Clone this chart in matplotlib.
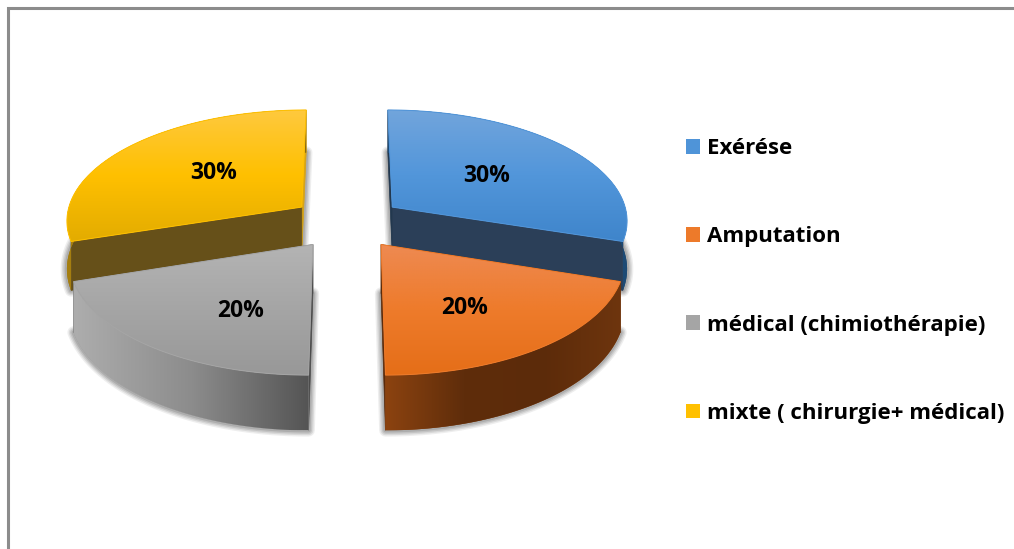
import numpy as np
import matplotlib
matplotlib.use("Agg")
import matplotlib.pyplot as plt
from matplotlib.colors import LinearSegmentedColormap
from matplotlib.patches import Polygon
from matplotlib.transforms import Transform, Affine2D

categories = ["Exérése", "Amputation", "médical (chimiothérapie)", "mixte ( chirurgie+ médical)"]
shares = [30, 20, 20, 30]

face_colors = ["#4f94d8", "#ed7a2a", "#a5a5a5", "#ffc000"]
top_grads = [["#72a5dc", "#5296da", "#3f85cb"],
             ["#ee8a52", "#ee7b2b", "#e56e18"],
             ["#b4b4b4", "#a5a5a5", "#989898"],
             ["#fec93f", "#ffc000", "#e3ac00"]]
wall_grads = [["#1d4a75", "#1d4a75"],
              ["#8c4310", "#5f2d0b", "#5c2b0a", "#6e350e"],
              ["#adadad", "#8c8c8c", "#545454"],
              ["#a67f10", "#8a6a10"]]
cut_low = ["#2b3f58", "#5a2a0a", "#6e6e6e", "#d9a514"]
cut_high = ["#22384f", "#5a2a0a", "#4c4c4c", "#665019"]
label_shift = [(-6, 3), (-2, 8), (13, 11), (12, 0)]

W, H = 1014, 549
CX, CY, RX, RY, K, DEPTH, EXPLODE = 347, 222.5, 236.5, 111, 0.11, 48, 0.24
FONT = "Open Sans"


def project(x, y, z=0.0):
    d = 1 + K * np.asarray(y)
    return CX + RX * np.asarray(x) / d, CY - RY * np.asarray(y) / d + z / d


class Perspective(Transform):
    input_dims = output_dims = 2
    is_separable = False
    has_inverse = False

    def transform_non_affine(self, values):
        v = np.asarray(values, float)
        X, Y = project(v[:, 0], v[:, 1])
        return np.column_stack([X, Y])


def arc(w, t1=None, t2=None, z=0.0, n=90):
    t = np.radians(np.linspace(w.theta1 if t1 is None else t1, w.theta2 if t2 is None else t2, n))
    X, Y = project(w.center[0] + w.r * np.cos(t), w.center[1] + w.r * np.sin(t), z)
    return np.column_stack([X, Y])


def apex(w, z=0.0):
    X, Y = project(w.center[0], w.center[1], z)
    return np.array([[X, Y]])


def gradient(ax, clip, colors, vertical, z):
    cmap = LinearSegmentedColormap.from_list("g", colors)
    ramp = np.linspace(0, 1, 256)
    data = ramp[:, None] if vertical else ramp[None, :]
    xy = clip.get_transform().transform(clip.get_path().vertices)
    xy = ax.transData.inverted().transform(xy)
    im = ax.imshow(data, cmap=cmap, aspect="auto", origin="upper", interpolation="bilinear", zorder=z,
                   extent=(xy[:, 0].min(), xy[:, 0].max(), xy[:, 1].max(), xy[:, 1].min()))
    im.set_clip_path(clip)


fig = plt.figure(figsize=(W / 100, H / 100), dpi=100)
ax = fig.add_axes([0, 0, 1, 1])
wedges, _, autotexts = ax.pie(shares, explode=[EXPLODE] * 4, colors=face_colors, startangle=90,
                              counterclock=False, radius=1, autopct="%.0f%%", pctdistance=0.56,
                              textprops=dict(family=FONT, weight="bold", fontsize=16.5, color="black"))
ax.set_aspect("auto")
ax.set_xlim(0, W)
ax.set_ylim(H, 0)
ax.axis("off")

persp = Perspective()
order = [3, 0, 2, 1]
for rank, i in enumerate(order):
    w = wedges[i]
    base = 10 + rank * 10
    floor = np.vstack([apex(w, DEPTH), arc(w, z=DEPTH)])
    for lw, a in zip([9, 7, 5, 3], [0.10, 0.14, 0.18, 0.22]):
        ax.add_patch(Polygon(floor, closed=True, fc="#808080", ec="#606060", lw=lw, alpha=a,
                             joinstyle="round", zorder=base))
    # straight cut faces first, then the outer wall hides whichever one faces away
    top_a, bot_a = arc(w), arc(w, z=DEPTH)
    for theta, colour, zz in ((w.theta1, cut_low[i], 1), (w.theta2, cut_high[i], 2)):
        rim = arc(w, theta, theta, n=1)
        rim_b = arc(w, theta, theta, z=DEPTH, n=1)
        ax.add_patch(Polygon(np.vstack([apex(w), rim, rim_b, apex(w, DEPTH)]), closed=True,
                             fc=colour, ec=colour, lw=0.5, zorder=base + zz))
    outer = Polygon(np.vstack([top_a, bot_a[::-1]]), closed=True, fc=wall_grads[i][0], ec="none", zorder=base + 3)
    ax.add_patch(outer)
    gradient(ax, outer, wall_grads[i], False, base + 4)
    # top face: the pie wedge itself, seen in perspective
    w.set_transform(persp + ax.transData)
    w.set_zorder(base + 5)
    gradient(ax, w, top_grads[i], True, base + 6)
    ax.add_patch(Polygon(np.vstack([apex(w), top_a]), closed=True, fc="none", ec=top_grads[i][1],
                         lw=0.7, zorder=base + 7))

for t, (dx, dy) in zip(autotexts, label_shift):
    t.set_transform(persp + Affine2D().translate(dx, dy) + ax.transData)
    t.set_zorder(80)

ax.plot([8, 8, W], [H, 7.5, 7.5], color="#8c8c8c", lw=2.2, solid_joinstyle="miter", zorder=1)

ax.legend(wedges, categories, loc="center left", bbox_to_anchor=(686, 281), bbox_transform=ax.transData,
          frameon=False, prop=dict(family=FONT, weight="bold", size=16),
          handlelength=0.63, handleheight=0.63, handletextpad=0.3, labelspacing=3.02, borderpad=0, borderaxespad=0)
ax.set_xlim(0, W)
ax.set_ylim(H, 0)
fig.savefig("out.png", dpi=100, facecolor="white")
